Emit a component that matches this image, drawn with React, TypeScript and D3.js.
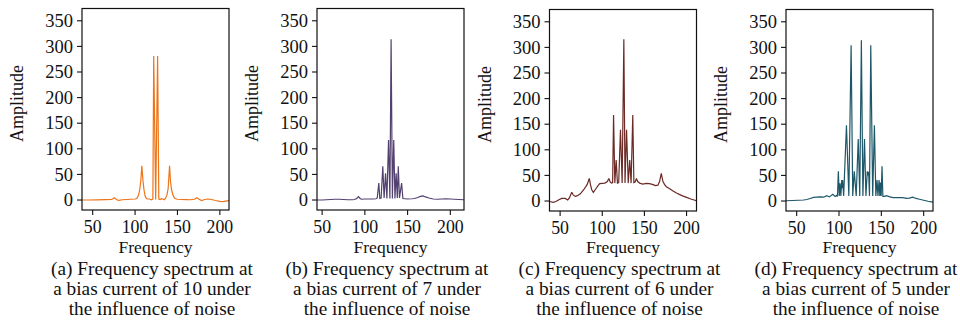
import React from "react";
import * as d3 from "d3";

// ---------- data ----------
const freqA = [37.4, 45, 55, 65, 72, 74, 75.5, 77, 79, 81, 85, 90, 95, 100, 102, 104, 105.5, 106.8, 108, 109.3, 110.5, 112, 113.5, 115, 117, 119.5, 121, 122, 124.3, 126.6, 128, 129.5, 131, 133, 134.5, 136, 137.5, 139, 140.7, 141.7, 143, 145, 147, 150, 155, 160, 165, 170, 172.8, 175, 178.5, 182, 186, 190, 195, 200, 203, 207, 210.8];
const ampA = [0, 0, 0.3, 0.8, 1, 2.5, 4.5, 2.5, 0, -0.5, 0.5, 1, 1.5, 2, 3, 9, 20, 38, 67, 38, 20, 7, 3, 2, 2, 0.5, 2, 281, 1, 281, 2, 1, 2.5, 2, 0.5, 4, 9, 22, 67, 38, 20, 8, 3, 1.5, 1, 0.8, 0.5, 1.5, 4.5, 2, -1, 1, 2, 1, -1, -2.5, -3, -2, -1];

const freqB = [44, 50, 55, 60, 65, 70, 75, 80, 85, 88, 90.5, 92.5, 94.5, 96, 100, 105, 110, 113, 114.5, 116.3, 117.5, 119, 121, 122.5, 124.2, 125.8, 127.7, 129.3, 130.7, 132.2, 133.8, 135.2, 136.6, 138, 139.1, 140.5, 143, 144.5, 147, 150, 155, 158, 162, 165, 168, 171, 175, 180, 185, 190, 195, 200, 205, 210, 216];
const ampB = [0, 0, 0.5, 1, 1.5, 1.5, 1, 0.5, 0.5, 1, 3, 6.5, 3, 1.5, 2, 2, 2, 2.5, 4, 33, 3, 4, 66, 4, 52, 3, 117, 3, 314, 3, 117, 3, 52, 4, 66, 4, 33, 3, 2.5, 2, 2.5, 3, 5, 7, 8, 6, 4, 2, 1.5, 2, 2.5, 2, 1.5, 1, 0.5];

const freqC = [37.4, 42, 45, 48, 52, 56, 59, 61, 63.8, 65.5, 68, 70, 74, 78, 82, 84.6, 86, 87.5, 89.4, 92, 95, 97, 100, 103, 106, 107.8, 109.5, 111, 112.3, 113.4, 114.9, 116.5, 118, 119.5, 121.6, 123.6, 125.6, 127, 128.8, 130.8, 132.6, 134.2, 136.2, 137.5, 139, 140.5, 142, 144.4, 148, 152.4, 156, 160.3, 163, 166, 168, 170, 172, 174, 176, 180, 184, 188, 192, 196, 200, 205, 211.8];
const ampC = [-1, -2.5, -1, 2, 5, 5, 2, 6, 17, 12, 9, 10, 14, 22, 32, 44, 32, 22, 17, 23, 30, 34, 34.5, 35, 38, 44, 37, 35, 36, 168, 35, 80, 35, 36, 139, 35, 316, 35, 139, 35, 80, 35, 168, 36, 37, 44, 38, 35, 33, 34.5, 34, 32, 30, 31, 38, 54, 38, 32, 28, 24, 19.5, 15.5, 12.5, 9.5, 7, 4, 0.5];

const freqD = [37.4, 45, 52, 58, 62, 66, 70, 74, 78, 81.6, 85.6, 88.7, 92.6, 95.4, 97.3, 98.2, 99.2, 100.3, 101.2, 102.2, 103.2, 103.8, 104.3, 105.5, 108.8, 111.6, 114.3, 116.2, 118, 120.3, 122.7, 124.5, 126.4, 128.2, 130.1, 131.8, 133.4, 134.2, 135, 136, 137.5, 139.8, 141.8, 143.5, 144.9, 146, 147.3, 148.2, 148.9, 149.8, 150.8, 151.8, 154, 156, 160, 164, 170, 175, 180, 183, 187, 191, 195, 200, 205, 211];
const ampD = [0.5, 1, 1.5, 2, 3, 5, 7, 7.5, 8, 7.5, 10.5, 8, 13, 9, 11, 9, 58, 10, 34.5, 10, 41, 25, 41, 10, 148, 10, 304, 10, 58, 10, 121, 10, 314, 10, 121, 10, 58, 50, 57, 10, 304, 10, 148, 10, 41, 10, 41, 10, 36, 10, 68, 9, 9, 10.5, 8, 6.5, 6.5, 6.5, 5, 5.5, 7.5, 5, 3.5, 1.5, -0.5, -2];

const xTicks = [50, 100, 150, 200];
const yTicks = [0, 50, 100, 150, 200, 250, 300, 350];
const captionLine1 = ["(a) Frequency spectrum at", "(b) Frequency spectrum at", "(c) Frequency spectrum at", "(d) Frequency spectrum at"];
const captionLine2 = ["a bias current of 10 under", "a bias current of 7 under", "a bias current of 6 under", "a bias current of 5 under"];
const captionLine3 = ["the influence of noise", "the influence of noise", "the influence of noise", "the influence of noise"];
const xDomains: [number, number][] = [[37.4, 210.8], [44, 216], [37.4, 211.8], [37.4, 211]];
const lineColors = ["#ee7418", "#52406f", "#6b2a26", "#1d5768"];

const seriesF = [freqA, freqB, freqC, freqD];
const seriesA = [ampA, ampB, ampC, ampD];

// ---------- layout ----------
const panelLeft = [82, 317, 549.5, 786];
const panelTop = [8.5, 8.5, 9.5, 9.5];
const panelW = 147;
const panelH = 201.5;
const yDomain: [number, number] = [-19.5, 374];
const FONT = "'Liberation Serif', 'Times New Roman', Times, serif";

function T({ x, y, size, anchor, children }: any) {
  return (
    <text x={x} y={y} fontFamily={FONT} fontSize={size} textAnchor={anchor} fill="#111">
      {children}
    </text>
  );
}

function Panel({ i }: { i: number }) {
  const L = panelLeft[i];
  const Tp = panelTop[i];
  const x = d3.scaleLinear().domain(xDomains[i]).range([L, L + panelW]);
  const y = d3.scaleLinear().domain(yDomain).range([Tp + panelH, Tp]);
  const pts: [number, number][] = seriesF[i].map((f, k) => [f, seriesA[i][k]]);
  const line = d3
    .line<[number, number]>()
    .x((d) => x(d[0]))
    .y((d) => y(d[1]));
  const cx = L + panelW / 2;
  const B = Tp + panelH;
  return (
    <g>
      <defs>
        <clipPath id={`clip${i}`}>
          <rect x={L} y={Tp} width={panelW} height={panelH} />
        </clipPath>
      </defs>
      <path
        d={line(pts) || ""}
        fill="none"
        stroke={lineColors[i]}
        strokeWidth={1.2}
        strokeLinejoin="miter"
        strokeMiterlimit={2}
        clipPath={`url(#clip${i})`}
      />
      <rect x={L} y={Tp} width={panelW} height={panelH} fill="none" stroke="#111" strokeWidth={1.2} />
      {xTicks.map((t) => (
        <g key={`x${t}`}>
          <line x1={x(t)} x2={x(t)} y1={B} y2={B + 5} stroke="#111" strokeWidth={1.1} />
          <T x={x(t)} y={B + 22.5} size={17.8} anchor="middle">
            {t}
          </T>
        </g>
      ))}
      {yTicks.map((t) => (
        <g key={`y${t}`}>
          <line x1={L - 5} x2={L} y1={y(t)} y2={y(t)} stroke="#111" strokeWidth={1.1} />
          <T x={L - 9} y={y(t) + 6.2} size={18.5} anchor="end">
            {t}
          </T>
        </g>
      ))}
      <text
        transform={`translate(${L - 59},${Tp + 95}) rotate(-90)`}
        fontFamily={FONT}
        fontSize={18}
        textAnchor="middle"
        fill="#111"
      >
        Amplitude
      </text>
      <T x={cx} y={252.5} size={17.5} anchor="middle">
        Frequency
      </T>
      <T x={cx - 3.5} y={274.5} size={19.3} anchor="middle">
        {captionLine1[i]}
      </T>
      <T x={cx - 3.5} y={294.5} size={19.3} anchor="middle">
        {captionLine2[i]}
      </T>
      <T x={cx - 3.5} y={314.5} size={19.3} anchor="middle">
        {captionLine3[i]}
      </T>
    </g>
  );
}

export default function App() {
  return (
    <svg
      width={960}
      height={325}
      style={{ position: "absolute", left: 0, top: 0, background: "#fff" }}
    >
      <rect x={0} y={0} width={960} height={325} fill="#fff" />
      {[0, 1, 2, 3].map((i) => (
        <Panel key={i} i={i} />
      ))}
    </svg>
  );
}
